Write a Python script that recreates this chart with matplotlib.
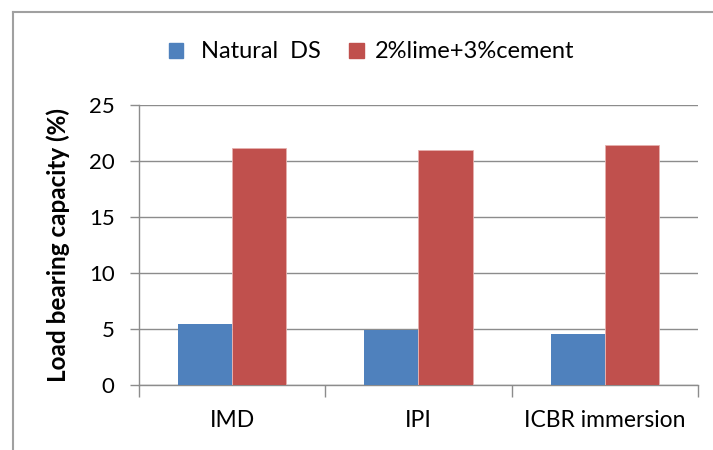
import numpy as np
import matplotlib
matplotlib.use('Agg')
import matplotlib.pyplot as plt
from matplotlib.patches import Patch
from matplotlib.lines import Line2D

plt.rcParams['font.family'] = ['Lato', 'DejaVu Sans']

categories = ['IMD', 'IPI', 'ICBR immersion']
natural_ds = [5.45, 4.95, 4.55]
treated = [21.2, 21.0, 21.4]
series_names = [' Natural  DS', '2%lime+3%cement']

blue = '#4F81BD'
red = '#C0504D'
grey = '#8C8C8C'

fig = plt.figure(figsize=(7.13, 4.5), dpi=100)
ax = fig.add_axes([139/713, 1 - 385/450, (698 - 139)/713, 280/450])

x = np.arange(len(categories))
w = 0.29
ax.bar(x - w/2, natural_ds, w, color=blue, zorder=3)
ax.bar(x + w/2, treated, w, color=red, edgecolor='#E6B0AE', linewidth=0.6, zorder=3)

ax.set_xlim(-0.5, len(categories) - 0.5)
ax.set_ylim(0, 25)
ax.set_yticks(np.arange(0, 26, 5))
ax.yaxis.grid(True, color=grey, linewidth=1.0, zorder=0)

ax.set_xticks(x)
ax.set_xticklabels(categories, fontsize=16.5)
ax.set_xticks(np.arange(-0.5, len(categories), 1), minor=True)
ax.tick_params(axis='x', which='major', length=0, pad=18)
ax.tick_params(axis='x', which='minor', length=8.5, width=1, color=grey)
ax.tick_params(axis='y', length=6.5, width=1, color=grey, labelsize=16, pad=11)

for s in ['top', 'right']:
    ax.spines[s].set_visible(False)
for s in ['left', 'bottom']:
    ax.spines[s].set_color(grey)
    ax.spines[s].set_linewidth(1.0)

ax.set_ylabel('Load bearing capacity (%)', fontsize=17.5, fontweight='bold', labelpad=14)

handles = [Patch(color=blue), Patch(color=red)]
fig.legend(handles, series_names, loc='center', bbox_to_anchor=(372/713, 1 - 52/450),
           ncol=2, frameon=False, fontsize=17, handlelength=0.6, handleheight=0.6,
           handletextpad=0.5, columnspacing=1.2)

# outer chart frame (cropped on the right and bottom)
fig.add_artist(Line2D([13/713, 13/713], [0, 1 - 12/450], transform=fig.transFigure,
                      color='#A0A0A0', linewidth=1.5))
fig.add_artist(Line2D([13/713, 1], [1 - 12/450, 1 - 12/450], transform=fig.transFigure,
                      color='#A0A0A0', linewidth=1.5))

fig.savefig('out.png', dpi=100)
